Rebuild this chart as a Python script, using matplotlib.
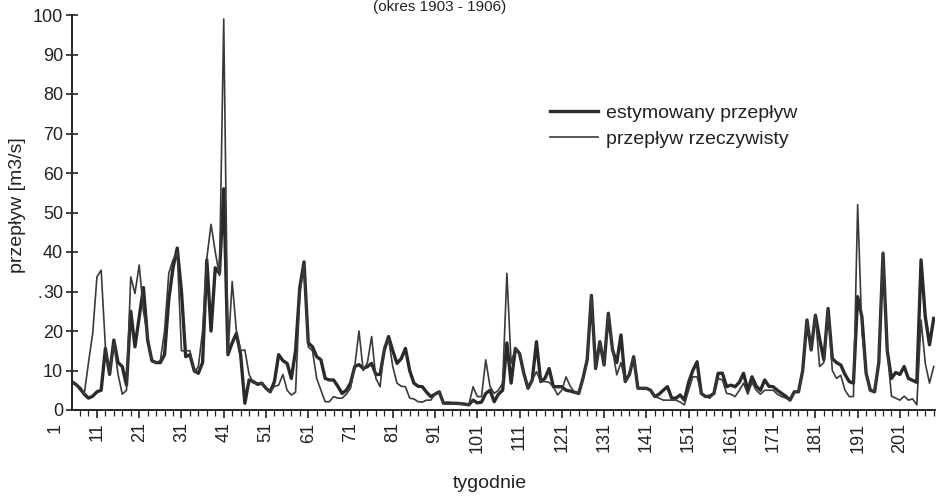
import matplotlib
matplotlib.use("Agg")
import matplotlib.pyplot as plt
from matplotlib.ticker import FixedLocator
import numpy as np

plt.rcParams['font.family'] = ['Liberation Sans', 'DejaVu Sans']

# ---------------- data ----------------
first_week = 5
estymowany = [
    7.2, 6.5, 5.5, 4, 3, 3.5, 4.6, 5, 15.6, 9,
    17.7, 12, 11, 6.3, 25, 16, 23.6, 31, 17.7, 12.5,
    12, 12, 14, 28, 36, 41, 30, 13.5, 14, 10,
    9.3, 12, 38, 20, 36, 34.6, 56, 14, 17, 19.4,
    14, 1.7, 7.6, 7.2, 6.5, 6.8, 5.5, 4.6, 7.2, 14,
    12.5, 11.8, 8, 15, 31, 37.5, 17, 16, 13.5, 12.7,
    8, 7.6, 7.6, 6, 4.2, 5, 6.8, 11, 11.5, 10.5,
    11, 11.8, 9, 9, 15.2, 18.6, 15, 11.8, 13, 15.6,
    10, 6.8, 6, 5.9, 4.5, 3.4, 4, 4.6, 1.7, 1.8,
    1.7, 1.7, 1.6, 1.5, 1.3, 2.5, 1.8, 2, 4.2, 5,
    2.1, 4, 5, 17, 6.8, 15.6, 14.3, 9.3, 5.5, 7.6,
    17.3, 7.2, 8, 10.5, 5.9, 5.9, 5.9, 5, 4.8, 4.5,
    4.2, 8, 12.7, 29, 10.5, 17.3, 11.4, 24.5, 15.2, 12,
    19, 7.2, 9, 13.5, 5.5, 5.5, 5.5, 5, 3.4, 4,
    5, 5.9, 3, 3, 3.8, 2.5, 7, 10, 12.2, 4.2,
    3.4, 3.5, 4.2, 9.3, 9.3, 5.9, 6.3, 5.9, 7, 9.3,
    5, 8.4, 6, 5, 7.6, 6, 5.9, 5, 4.2, 3.5,
    2.5, 4.6, 4.6, 10, 22.8, 15.2, 24, 18, 12.7, 25.7,
    13, 12, 11.4, 9, 7.2, 6.8, 28.7, 23.6, 9.3, 5,
    4.6, 12, 39.7, 15, 8, 9.5, 9, 11, 8, 7.5,
    7, 38, 23.6, 16.5, 23.2,
]
rzeczywisty = [
    7.5, 6.5, 5, 4, 12, 19.4, 33.7, 35.4, 16, 9,
    17, 9, 4, 5, 33.7, 29.5, 36.7, 25, 18.6, 12.2,
    12, 12.5, 20, 34.6, 38, 40, 15, 15, 15, 9.5,
    11, 20, 38.4, 47, 40, 34, 99, 14, 32.5, 20,
    15, 15.2, 9, 6.8, 6.8, 6.8, 5.5, 4.6, 6, 6.3,
    9, 5, 3.8, 4.5, 29.5, 37, 16, 15, 8, 5,
    2.1, 2.1, 3.4, 3, 3, 4, 5.5, 11, 20, 10,
    12, 18.6, 8, 5.9, 16, 18, 11, 6.8, 6, 5.9,
    3, 2.8, 2.1, 2, 2.5, 2.5, 4, 4.6, 1.7, 1.5,
    1.5, 1.7, 1.5, 1.3, 1.3, 5.9, 3.4, 3.4, 12.7, 6,
    4.2, 5, 6.8, 34.6, 11.8, 15.6, 14.3, 9.3, 5.5, 7.6,
    9.7, 7.2, 7.2, 7, 5.9, 3.8, 5, 8.4, 6, 4.5,
    4.2, 8, 12.7, 29, 10.5, 17.3, 11.4, 24.5, 15.2, 8.9,
    12, 7.2, 9, 13.5, 5.5, 5.5, 5.5, 5, 3.4, 3,
    2.5, 2.5, 2.5, 2.5, 2, 1.3, 5, 8.4, 8.4, 4.2,
    3.4, 3, 4.2, 8, 7.6, 4.2, 4, 3.4, 5, 6.8,
    4, 7, 5, 4, 5, 5, 5, 4, 3.4, 3,
    2.5, 4.6, 4.6, 10, 22.8, 15.2, 24, 11, 12, 25.7,
    10, 8, 8.8, 5, 3.4, 3.4, 52, 20, 9.3, 5,
    4.6, 12, 39.7, 15, 3.5, 3, 2.5, 3.5, 2.5, 2.8,
    1.3, 22.8, 11.8, 6.8, 11,
]
weeks = np.arange(first_week, first_week + len(estymowany))
x_tick_labels = [str(w) for w in range(1, 202, 10)]
y_ticks = list(range(0, 101, 10))

labels = ['estymowany przepływ', 'przepływ rzeczywisty']
title = '(okres 1903 - 1906)'
xlabel = 'tygodnie'
ylabel = 'przepływ [m3/s]'

# ---------------- figure ----------------
W, H = 939, 497
fig = plt.figure(figsize=(W / 100, H / 100), dpi=100)
ax = fig.add_axes([72 / W, 87 / H, 863 / W, 395 / H])

ax.plot(weeks, estymowany, color='#2a2a2a', lw=2.4, label=labels[0],
        solid_joinstyle='round')
ax.plot(weeks, rzeczywisty, color='#3a3a3a', lw=1.2, label=labels[1],
        solid_joinstyle='round')

for s in ['top', 'right']:
    ax.spines[s].set_visible(False)
for s in ['left', 'bottom']:
    ax.spines[s].set_linewidth(1.4)
    ax.spines[s].set_color('#222222')

major_x = [int(l) for l in x_tick_labels]
ax.set_xticks(major_x)
ax.set_xticklabels(x_tick_labels, rotation=90, fontsize=13)
ax.xaxis.set_minor_locator(FixedLocator(list(range(1, 210, 2))))
ax.tick_params(axis='x', which='major', direction='out', length=6, width=1.2,
               pad=3, colors='#222222')
ax.tick_params(axis='x', which='minor', direction='out', length=4, width=0.9,
               colors='#222222')
ax.set_yticks(y_ticks)
ax.set_yticklabels([str(v) for v in y_ticks], fontsize=13)
ax.tick_params(axis='y', direction='inout', length=9, width=1.2, pad=2,
               colors='#222222')

# limits after ticks (set_xticks would otherwise widen the view)
ax.set_xlim(5.1, 209.3)
ax.set_ylim(0, 100)

# label for week 1 (lies left of the drawn axis)
ax.annotate(x_tick_labels[0], xy=(1, 0), xycoords=('data', 'axes fraction'),
            xytext=(0, -9.5), textcoords='offset points', rotation=90,
            ha='center', va='top', fontsize=13, color='#222222',
            annotation_clip=False)

fig.text(490 / W, 1 - 483 / H, xlabel, ha='center', va='center', fontsize=14,
         color='#222222')
fig.text(18 / W, 1 - 205 / H, ylabel, ha='center', va='center', rotation=90,
         fontsize=14, color='#222222')
fig.text(440 / W, 1 - 11 / H, title, ha='center', va='baseline', fontsize=11,
         color='#222222')
fig.text(40 / W, 1 - 293 / H, '.', ha='center', va='center', fontsize=12,
         color='#222222')

leg = ax.legend(loc='upper left', bbox_to_anchor=(550 / W, 1 - 104 / H),
                bbox_transform=fig.transFigure, frameon=False, fontsize=14,
                handlelength=2.45, handletextpad=0.45, labelspacing=0.45,
                borderpad=0, borderaxespad=0)
for t in leg.get_texts():
    t.set_color('#222222')

fig.savefig('out.png', dpi=100)
